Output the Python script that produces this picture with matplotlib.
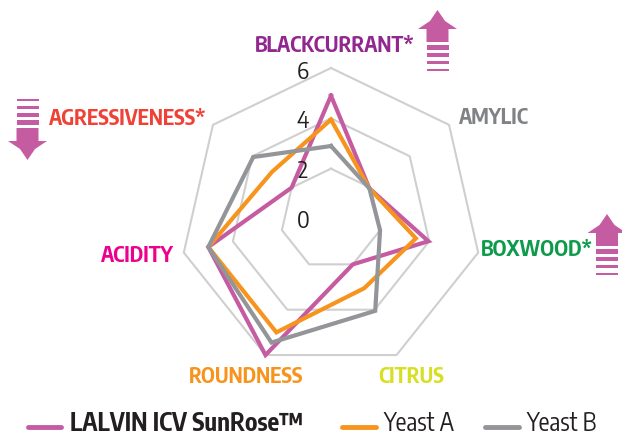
import numpy as np
import matplotlib
matplotlib.use("Agg")
import matplotlib.pyplot as plt
from matplotlib.patches import Polygon, Rectangle

categories = ["BLACKCURRANT*", "AMYLIC", "BOXWOOD*", "CITRUS", "ROUNDNESS", "ACIDITY", "AGRESSIVENESS*"]
sunrose = [4.9, 1.95, 3.97, 2.0, 6.0, 5.0, 2.0]
yeast_a = [3.95, 1.95, 3.46, 3.05, 5.0, 5.0, 3.0]
yeast_b = [2.9, 1.95, 2.0, 4.05, 5.45, 5.0, 3.95]
rings = [2, 4, 6]
ring_labels = ["0", "2", "4", "6"]

PURPLE = "#C55CA2"
ORANGE = "#F7941E"
GREY = "#939598"

plt.rcParams['font.family'] = ['Encode Sans Condensed', 'Liberation Sans', 'DejaVu Sans']

W, H = 622, 437
fig = plt.figure(figsize=(W / 100, H / 100), dpi=100)

# radar, centre at (331, 219) px, radius 151 px
ax = fig.add_axes([(331 - 151) / W, (H - 219 - 151) / H, 302 / W, 302 / H], projection="polar")
ax.set_theta_zero_location("N")
ax.set_theta_direction(-1)
ax.set_ylim(0, 6)
ax.set_axis_off()

theta = np.linspace(0, 2 * np.pi, len(categories), endpoint=False)
theta_c = np.append(theta, theta[0])


def closed(v):
    return np.append(v, v[0])


for r in rings:
    ax.plot(theta_c, [r] * len(theta_c), color="#CFCFCF", lw=1.5, clip_on=False, zorder=1)
ax.plot(theta_c, closed(sunrose), color=PURPLE, lw=3, clip_on=False, zorder=3, solid_joinstyle="miter")
ax.plot(theta_c, closed(yeast_a), color=ORANGE, lw=3, clip_on=False, zorder=4, solid_joinstyle="miter")
ax.plot(theta_c, closed(yeast_b), color=GREY, lw=3, clip_on=False, zorder=5, solid_joinstyle="miter")

# overlay in pixel coordinates for the labels and arrows
ov = fig.add_axes([0, 0, 1, 1])
ov.set_xlim(0, W)
ov.set_ylim(H, 0)
ov.axis("off")
ov.patch.set_alpha(0)

for lab, y in zip(ring_labels, [221, 171, 121, 72]):
    ov.text(303, y, lab, fontsize=17, color="#231F20", ha="center", va="center")

label_pos = [
    (335, 46, "#92278F"),
    (494, 118, "#808285"),
    (537, 250, "#0D9B4B"),
    (411, 377, "#D7DF23"),
    (246, 377, ORANGE),
    (137, 256, "#EC008C"),
    (128, 119, "#EF4136"),
]
for name, (x, y, c) in zip(categories, label_pos):
    ov.text(x, y, name, fontsize=15.2, fontweight="bold", color=c, ha="center", va="center")


def arrow(cx, tip, d):
    # d=1 points up, d=-1 points down; bars sit on the tail side
    y = lambda o: tip + d * o
    pts = [(cx, y(0)), (cx + 7.5, y(11)), (cx + 19.5, y(19)), (cx + 11, y(19)), (cx + 11, y(32)),
           (cx - 11, y(32)), (cx - 11, y(19)), (cx - 19.5, y(19)), (cx - 7.5, y(11))]
    ov.add_patch(Polygon(pts, closed=True, fc=PURPLE, ec="none"))
    for a, b in [(35, 40), (43, 47), (51, 54), (59, 61)]:
        ov.add_patch(Rectangle((cx - 11, min(y(a), y(b))), 22, abs(b - a), fc=PURPLE, ec="none"))


arrow(437.5, 10, 1)
arrow(607, 214, 1)
arrow(27.5, 160, -1)

# legend
for x0, x1, c in [(28, 61, PURPLE), (342, 376, ORANGE), (485, 519, GREY)]:
    ov.plot([x0, x1], [427, 427], color=c, lw=3.5, solid_capstyle="round")
ov.text(70, 424, "LALVIN ICV SunRose\u2122", fontsize=17.6, fontweight="bold", color="#231F20", va="center")
ov.text(383, 424, "Yeast A", fontsize=17.6, color="#231F20", va="center")
ov.text(526, 424, "Yeast B", fontsize=17.6, color="#231F20", va="center")

fig.savefig("out.png", dpi=100)
